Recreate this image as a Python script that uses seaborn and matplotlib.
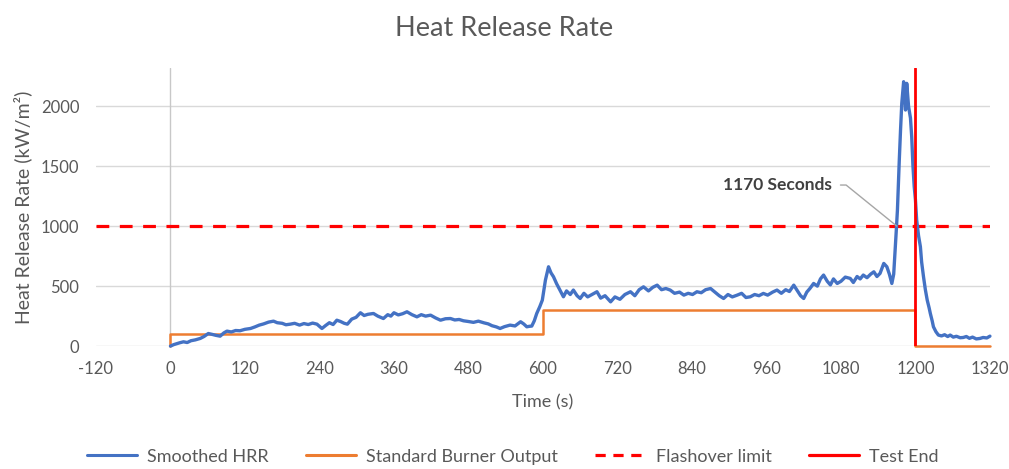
import seaborn as sns
import pandas as pd
import matplotlib.pyplot as plt
from matplotlib.lines import Line2D

# smoothed heat release rate
time_s = [0, 5, 10, 15, 21, 27, 33, 40, 48, 54, 61, 67, 73, 80, 86, 91, 98, 105, 112, 120,
          129, 136, 143, 150, 158, 166, 172, 180, 186, 193, 200, 208, 215, 222, 229, 236, 244, 250, 256, 262,
          268, 274, 280, 285, 292, 299, 306, 312, 318, 327, 334, 343, 350, 355, 360, 367, 374, 381, 389, 397,
          404, 411, 419, 427, 435, 443, 451, 458, 465, 472, 480, 488, 496, 505, 512, 518, 525, 531, 538, 547,
          555, 564, 569, 574, 578, 582, 586, 590, 595, 599, 604, 609, 613, 617, 622, 627, 633, 638, 644, 649,
          655, 660, 666, 672, 679, 687, 693, 700, 709, 716, 724, 732, 741, 748, 755, 762, 770, 777, 784, 791,
          798, 805, 812, 820, 827, 834, 841, 848, 855, 862, 870, 877, 884, 891, 898, 905, 913, 920, 927, 934,
          941, 948, 955, 962, 970, 977, 984, 991, 997, 1004, 1010, 1015, 1020, 1025, 1030, 1036, 1042, 1047, 1052, 1058,
          1063, 1068, 1074, 1080, 1087, 1095, 1100, 1106, 1111, 1116, 1122, 1128, 1133, 1138, 1143, 1149, 1154, 1158, 1162, 1165,
          1167, 1169, 1171, 1174, 1176, 1178, 1181, 1184, 1186, 1189, 1192, 1194, 1196, 1198, 1200, 1202, 1205, 1208, 1210, 1213,
          1216, 1219, 1222, 1224, 1227, 1229, 1233, 1237, 1242, 1247, 1252, 1256, 1261, 1266, 1272, 1277, 1282, 1287, 1292, 1298,
          1304, 1309, 1315, 1320]
hrr = [0, 12, 20, 28, 36, 30, 45, 52, 64, 80, 105, 98, 90, 83, 110, 125, 118, 130, 128, 140,
       147, 160, 175, 185, 200, 208, 195, 190, 178, 183, 190, 175, 188, 180, 192, 183, 147, 172, 195, 180,
       216, 205, 190, 183, 225, 240, 278, 255, 265, 272, 250, 230, 262, 250, 278, 260, 270, 286, 262, 244,
       262, 250, 258, 235, 216, 228, 230, 218, 222, 211, 205, 198, 208, 194, 185, 170, 160, 147, 162, 175,
       168, 203, 185, 161, 165, 167, 210, 272, 330, 383, 550, 661, 610, 578, 520, 470, 411, 460, 430, 467,
       420, 397, 440, 410, 430, 453, 400, 420, 369, 410, 390, 430, 453, 420, 470, 494, 460, 490, 508, 470,
       480, 467, 440, 450, 425, 440, 430, 453, 445, 470, 480, 450, 420, 397, 430, 410, 425, 440, 405, 411,
       430, 420, 439, 425, 450, 467, 440, 470, 455, 508, 460, 420, 397, 450, 480, 522, 500, 560, 592, 540,
       510, 560, 522, 540, 575, 564, 530, 580, 560, 592, 570, 600, 619, 580, 606, 689, 661, 600, 522, 600,
       772, 950, 1133, 1550, 1800, 2022, 2203, 1967, 2189, 1994, 1900, 1744, 1500, 1330, 1220, 1050, 920, 828, 700, 578,
       470, 383, 320, 272, 210, 161, 120, 92, 85, 95, 80, 92, 75, 82, 70, 72, 80, 65, 75, 60,
       64, 72, 68, 83]

# standard burner output steps
burner_t = [0, 0, 600, 1200, 1320]
burner_kw = [0, 100, 300, 0, 0]

flashover = 1000
test_end = 1200
x_ticks = list(range(-120, 1321, 120))
y_ticks = [0, 500, 1000, 1500, 2000]

df = pd.DataFrame({"time": time_s, "hrr": hrr})
burner = pd.DataFrame({"time": burner_t, "kw": burner_kw})

sns.set_style("white")
plt.rcParams["font.family"] = ["Lato", "DejaVu Sans"]
plt.rcParams["axes.unicode_minus"] = False
grey = "#595959"

fig = plt.figure(figsize=(10.09, 4.69), dpi=100)
ax = fig.add_axes([0.0951, 0.262, 0.886, 0.593])

for y in y_ticks:
    ax.axhline(y, color="#d9d9d9", lw=1, zorder=0)
ax.axvline(0, color="#c8c8c8", lw=1, zorder=0)

sns.lineplot(data=df, x="time", y="hrr", ax=ax, color="#4472C4", lw=2.4,
             estimator=None, sort=False, clip_on=False, zorder=3)
sns.lineplot(data=burner, x="time", y="kw", ax=ax, color="#ED7D31", lw=1.8,
             estimator=None, sort=False, drawstyle="steps-post", clip_on=False, zorder=2)
ax.axhline(flashover, color="#FF0000", lw=2.3, dashes=(4, 3.3), zorder=2)
ax.axvline(test_end, color="#FF0000", lw=2.0, zorder=4)

ax.set_xlim(-120, 1320)
ax.set_ylim(0, 2317)
ax.set_xticks(x_ticks)
ax.set_yticks(y_ticks)
ax.tick_params(axis="x", length=0, labelsize=12, labelcolor=grey, pad=11)
ax.tick_params(axis="y", length=0, labelsize=12, labelcolor=grey, pad=12)
for s in ax.spines.values():
    s.set_visible(False)

ax.set_xlabel("Time (s)", fontsize=13, color=grey, labelpad=12)
ax.set_ylabel("Heat Release Rate (kW/m²)", fontsize=14, color=grey, labelpad=6)
fig.text(0.5, 0.94, "Heat Release Rate", ha="center", va="center", fontsize=19.5, color=grey)

ax.annotate("1170 Seconds", xy=(1170, flashover), xytext=(1065, 1342),
            ha="right", va="center", fontsize=12.5, fontweight="bold", color="#404040",
            arrowprops=dict(arrowstyle="-", color="#a6a6a6", lw=1, shrinkA=4, shrinkB=0,
                            connectionstyle="angle,angleA=0,angleB=141,rad=0"))

handles = [
    Line2D([], [], color="#4472C4", lw=2.2),
    Line2D([], [], color="#ED7D31", lw=2.2),
    Line2D([], [], color="#FF0000", lw=2.3, dashes=(3.2, 2.4)),
    Line2D([], [], color="#FF0000", lw=2.3),
]
labels = ["Smoothed HRR", "Standard Burner Output", "Flashover limit", "Test End"]
leg = fig.legend(handles, labels, loc="center", bbox_to_anchor=(0.508, 0.026), ncol=4,
                 frameon=False, fontsize=13, handlelength=2.8, handletextpad=0.55, columnspacing=2.05)
for t in leg.get_texts():
    t.set_color(grey)

plt.savefig("out.png", dpi=100)
